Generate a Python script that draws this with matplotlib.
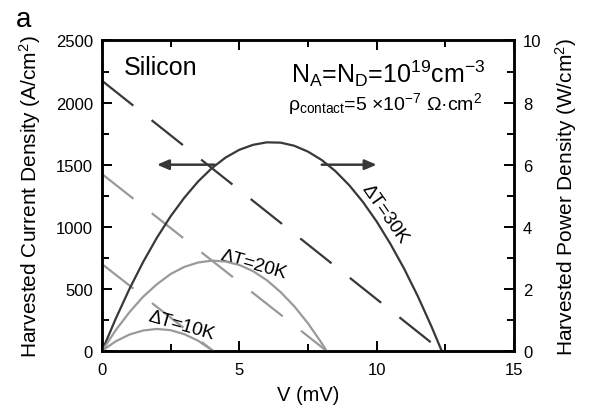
import matplotlib
matplotlib.use("Agg")
import matplotlib.pyplot as plt
import numpy as np

plt.rcParams['font.family'] = ['Liberation Sans', 'DejaVu Sans']
plt.rcParams['mathtext.fontset'] = 'custom'
plt.rcParams['mathtext.rm'] = 'Liberation Sans'
plt.rcParams['mathtext.it'] = 'Liberation Sans:italic'

# current density (dashed, left axis): straight lines, start and end points
V_I30 = [0, 12.37]
I30 = [2176, 0]
V_I20 = [0, 8.18]
I20 = [1425, 0]
V_I10 = [0, 4.05]
I10 = [700, 0]

# power density (solid, right axis)
V_P30 = [0, 0.5, 1, 1.5, 2, 2.5, 3, 3.5, 4, 4.5, 5, 5.5, 6, 6.5, 7, 7.5,
         8, 8.5, 9, 9.5, 10, 10.5, 11, 11.5, 12, 12.37]
P30 = [0, 1.04, 2.0, 2.87, 3.65, 4.34, 4.94, 5.46, 5.89, 6.23, 6.48, 6.64,
       6.72, 6.71, 6.61, 6.42, 6.15, 5.79, 5.34, 4.8, 4.17, 3.45, 2.65, 1.76,
       0.78, 0]
V_P20 = [0, 0.5, 1, 1.5, 2, 2.5, 3, 3.5, 4, 4.5, 5, 5.5, 6, 6.5, 7, 7.5, 8, 8.18]
P20 = [0, 0.67, 1.25, 1.75, 2.15, 2.48, 2.71, 2.85, 2.91, 2.88, 2.77, 2.57,
       2.28, 1.9, 1.44, 0.89, 0.25, 0]
V_P10 = [0, 0.25, 0.5, 1, 1.5, 2, 2.5, 3, 3.5, 4, 4.05]
P10 = [0, 0.16, 0.31, 0.53, 0.66, 0.71, 0.67, 0.54, 0.33, 0.03, 0]

dark = '#383838'
light = '#9a9a9a'
lw = 1.6
dash = (18, 10.5)

fig = plt.figure(figsize=(5.91, 4.10), dpi=100)
ax = fig.add_axes([0.1726, 0.1415, 0.6971, 0.7573])
ax2 = ax.twinx()

ax.plot(V_I30, I30, color=dark, lw=lw, dashes=dash)
ax.plot(V_I20, I20, color=light, lw=lw, dashes=dash)
ax.plot(V_I10, I10, color=light, lw=lw, dashes=dash)

ax2.plot(V_P30, P30, color=dark, lw=lw)
ax2.plot(V_P20, P20, color=light, lw=lw)
ax2.plot(V_P10, P10, color=light, lw=lw)

ax.set_xlim(0, 15)
ax.set_ylim(0, 2500)
ax2.set_ylim(0, 10)

ax.set_xticks([0, 5, 10, 15])
ax.set_xticks([2.5, 7.5, 12.5], minor=True)
ax.set_yticks([0, 500, 1000, 1500, 2000, 2500])
ax.set_yticks(np.arange(250, 2500, 500), minor=True)
ax2.set_yticks([0, 2, 4, 6, 8, 10])
ax2.set_yticks([1, 3, 5, 7, 9], minor=True)

for a in (ax, ax2):
    for s in a.spines.values():
        s.set_linewidth(1.8)
ax.tick_params(which='both', direction='in', top=True, right=False,
               width=1.4, labelsize=12, pad=6.5)
ax.tick_params(which='major', length=7.5)
ax.tick_params(which='minor', length=4.8)
ax.tick_params(axis='x', pad=8)
ax2.tick_params(which='both', direction='in', width=1.4, labelsize=12, pad=6.5)
ax2.tick_params(which='major', length=7.5)
ax2.tick_params(which='minor', length=4.8)

ax.set_xlabel('V (mV)', fontsize=14.5, labelpad=6)
ax.set_ylabel('Harvested Current Density (A/cm$^2$)', fontsize=15, labelpad=9)
ax2.set_ylabel('Harvested Power Density (W/cm$^2$)', fontsize=15, labelpad=8)

# arrows pointing to the axes
ax.annotate('', xy=(2.0, 1500), xytext=(4.1, 1500),
            arrowprops=dict(arrowstyle='-|>,head_length=0.7,head_width=0.3',
                            color=dark, lw=1.8, shrinkA=0, shrinkB=0))
ax.annotate('', xy=(10.0, 1500), xytext=(8.0, 1500),
            arrowprops=dict(arrowstyle='-|>,head_length=0.7,head_width=0.3',
                            color=dark, lw=1.8, shrinkA=0, shrinkB=0))

ax.text(10.3, 1110, '\u0394T=30K', fontsize=13.5, rotation=-55,
        ha='center', va='center')
ax.text(5.5, 700, '\u0394T=20K', fontsize=13.5, rotation=-16,
        ha='center', va='center')
ax.text(2.9, 205, '\u0394T=10K', fontsize=13.5, rotation=-16,
        ha='center', va='center')

ax.text(0.8, 2230, 'Silicon', fontsize=18, va='baseline')
ax.text(6.88, 2166, 'N$_\\mathrm{A}$=N$_\\mathrm{D}$=10$^{19}$cm$^{-3}$',
        fontsize=18, va='baseline')
ax.text(6.77, 1948, '\u03c1$_\\mathrm{contact}$=5 \u00d710$^{-7}$ \u03a9\u00b7cm$^2$',
        fontsize=14, va='baseline')

fig.text(0.027, 0.934, 'a', fontsize=20)

fig.savefig('out.png', dpi=100)
